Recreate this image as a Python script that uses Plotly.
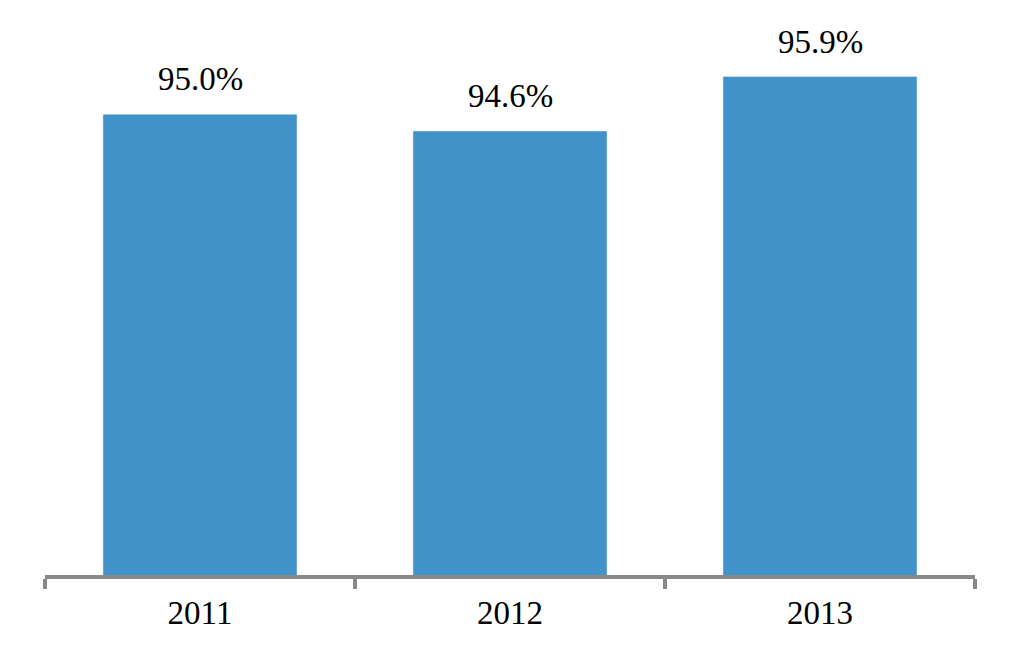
import plotly.graph_objects as go

years = ["2011", "2012", "2013"]
rates = [95.0, 94.6, 95.9]
rate_labels = ["95.0%", "94.6%", "95.9%"]

serif = dict(family="Liberation Serif", size=33, color="black")

fig = go.Figure()
fig.add_trace(go.Bar(
    x=years,
    y=rates,
    marker_color="#4292CA",
    width=0.626,
))

# value labels above each bar (category index as x)
for i, (val, lab) in enumerate(zip(rates, rate_labels)):
    fig.add_annotation(
        x=i, y=val, text=lab,
        showarrow=False,
        yanchor="bottom",
        yshift=15,
        font=serif,
    )

# page has an 8px body margin, so margins are shifted to compensate
fig.update_layout(
    width=1020,
    height=660,
    margin=dict(l=37, r=53, t=12, b=93),
    plot_bgcolor="white",
    paper_bgcolor="white",
    showlegend=False,
    font=serif,
)
fig.update_xaxes(
    type="category",
    range=[-0.5, 2.5],
    showline=True,
    linecolor="#898989",
    linewidth=4,
    ticks="outside",
    tickson="boundaries",
    ticklen=10,
    tickwidth=4,
    tickcolor="#898989",
    showgrid=False,
    ticklabelstandoff=5,
    tickfont=serif,
)
fig.update_yaxes(
    range=[84, 97.25],
    visible=False,
    showgrid=False,
)

fig.write_html("out.html")
